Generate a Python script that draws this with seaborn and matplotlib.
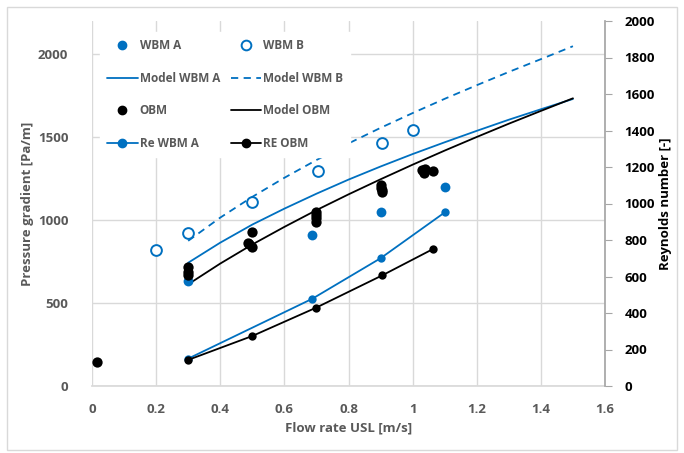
import numpy as np
import pandas as pd
import matplotlib
matplotlib.use("Agg")
import matplotlib.pyplot as plt
import seaborn as sns
from matplotlib.lines import Line2D
from matplotlib.patches import Rectangle

# ---- data ----
# measured pressure gradient [Pa/m]
wbm_a_x = [0.30, 0.687, 0.90, 1.10]
wbm_a_y = [634, 912, 1050, 1197]

wbm_b_x = [0.20, 0.30, 0.50, 0.706, 0.905, 1.002]
wbm_b_y = [821, 920, 1110, 1296, 1466, 1546]

obm_x = [0.015, 0.30, 0.30, 0.30, 0.485, 0.49, 0.50, 0.50,
         0.70, 0.70, 0.70, 0.70, 0.90, 0.90, 0.905, 0.905,
         1.03, 1.035, 1.04, 1.065]
obm_y = [147, 715, 690, 669, 863, 855, 840, 929,
         1048, 1030, 1010, 990, 1210, 1195, 1180, 1168,
         1300, 1285, 1305, 1295]

# model curves [Pa/m]
model_x = [0.3, 0.4, 0.5, 0.6, 0.7, 0.8, 0.9, 1.0, 1.1, 1.2, 1.3, 1.4, 1.5]
model_wbm_a = [743, 864, 973, 1069, 1159, 1244, 1323, 1398, 1469, 1538, 1605, 1668, 1730]
model_wbm_b = [875, 1015, 1140, 1255, 1362, 1462, 1556, 1645, 1731, 1813, 1893, 1970, 2048]
model_obm = [613, 738, 853, 959, 1060, 1155, 1246, 1334, 1419, 1501, 1581, 1658, 1734]

# Reynolds numbers [-]
re_wbm_a_x = [0.30, 0.687, 0.90, 1.10]
re_wbm_a = [150, 478, 700, 951]
re_obm_x = [0.30, 0.50, 0.70, 0.905, 1.063]
re_obm = [143, 274, 430, 606, 750]

blue = "#0070C0"
grey_txt = "#595959"
grid_col = "#D9D9D9"

sns.set_theme(style="white")
plt.rcParams['font.family'] = ['Open Sans', 'DejaVu Sans']
plt.rcParams['font.weight'] = 'bold'

fig = plt.figure(figsize=(6.84, 4.53), dpi=100)
ax = fig.add_axes([92 / 684, 67 / 453, 513 / 684, 365 / 453])
ax2 = ax.twinx()

# chart border
fig.patches.append(Rectangle((7 / 684, 3 / 453), 670 / 684, 443 / 453,
                             transform=fig.transFigure, fill=False,
                             edgecolor=grid_col, linewidth=1.0))

# left axis: pressure gradient
sns.lineplot(x=model_x, y=model_wbm_a, ax=ax, color=blue, linewidth=1.3)
sns.lineplot(x=model_x, y=model_wbm_b, ax=ax, color=blue, linewidth=1.3,
             linestyle=(0, (4, 3)))
sns.lineplot(x=model_x, y=model_obm, ax=ax, color="black", linewidth=1.3)
sns.scatterplot(x=wbm_a_x, y=wbm_a_y, ax=ax, color=blue, s=50,
                edgecolor=blue, linewidth=0, zorder=3)
sns.scatterplot(x=wbm_b_x, y=wbm_b_y, ax=ax, s=60, facecolor="white",
                edgecolor=blue, linewidth=1.4, zorder=3)
sns.scatterplot(x=obm_x, y=obm_y, ax=ax, color="black", s=55,
                linewidth=0, zorder=3)

# right axis: Reynolds number
sns.lineplot(x=re_wbm_a_x, y=re_wbm_a, ax=ax2, color=blue, linewidth=1.3,
             marker="o", markersize=6, markeredgewidth=0)
sns.lineplot(x=re_obm_x, y=re_obm, ax=ax2, color="black", linewidth=1.3,
             marker="o", markersize=6, markeredgewidth=0)

ax.set_xlim(0, 1.6)
ax.set_ylim(0, 2200)
ax2.set_ylim(0, 2000)
ax.set_xticks(np.arange(0, 1.61, 0.2))
ax.set_xticklabels(["0", "0.2", "0.4", "0.6", "0.8", "1", "1.2", "1.4", "1.6"])
ax.set_yticks([0, 500, 1000, 1500, 2000])
ax2.set_yticks(np.arange(0, 2001, 200))

ax.grid(True, color=grid_col, linewidth=1.0)
ax.set_axisbelow(True)
for a in (ax, ax2):
    for s in ("top", "left", "right", "bottom"):
        a.spines[s].set_visible(False)
ax.spines["bottom"].set_visible(True)
ax.spines["bottom"].set_color(grid_col)
ax2.spines["right"].set_visible(True)
ax2.spines["right"].set_color("#A6A6A6")

ax.tick_params(axis="x", length=0, pad=12, labelsize=9.5, colors=grey_txt)
ax.tick_params(axis="y", length=0, pad=17, labelsize=9.5, colors=grey_txt)
ax2.tick_params(axis="y", length=5, width=0.8, color="#A6A6A6", pad=9,
                labelsize=9.5, labelcolor="black", right=True)

ax.set_xlabel("Flow rate USL [m/s]", fontsize=9.5, color=grey_txt,
              fontweight="bold", labelpad=4)
ax.set_ylabel("Pressure gradient [Pa/m]", fontsize=9.5, color=grey_txt,
              fontweight="bold", labelpad=3)
ax2.set_ylabel("Reynolds number [-]", fontsize=9.5, color="black",
               fontweight="bold", labelpad=3)

# legend (order follows the reference: two columns)
handles = [
    Line2D([], [], marker="o", color=blue, linestyle="none", markersize=6),
    Line2D([], [], color=blue, linewidth=1.3),
    Line2D([], [], marker="o", color="black", linestyle="none", markersize=6),
    Line2D([], [], color=blue, linewidth=1.3, marker="o", markersize=6),
    Line2D([], [], marker="o", markerfacecolor="white", markeredgecolor=blue,
           markeredgewidth=1.4, linestyle="none", markersize=7),
    Line2D([], [], color=blue, linewidth=1.3, linestyle=(0, (4, 3))),
    Line2D([], [], color="black", linewidth=1.3),
    Line2D([], [], color="black", linewidth=1.3, marker="o", markersize=6),
]
labels = ["WBM A", "Model WBM A", "OBM", "Re WBM A",
          "WBM B", "Model WBM B", "Model OBM", "RE OBM"]
leg = ax2.legend(handles, labels, loc="upper left", bbox_to_anchor=(0.004, 0.985),
                 ncol=2, frameon=True, facecolor="white", edgecolor="white",
                 framealpha=1, fancybox=False, fontsize=8.5, handlelength=2.6,
                 handletextpad=0.15, columnspacing=0.9, labelspacing=1.65,
                 borderpad=0.6)
for t in leg.get_texts():
    t.set_color(grey_txt)
    t.set_fontweight("bold")

fig.savefig("out.png", dpi=100)
